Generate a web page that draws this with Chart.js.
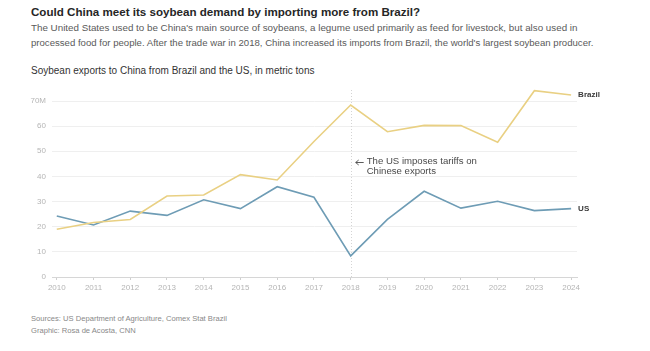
<!DOCTYPE html>
<html>
<head>
<meta charset="utf-8">
<script src="https://cdn.jsdelivr.net/npm/chart.js@4/dist/chart.umd.min.js"></script>
<style>
  html, body { margin: 0; padding: 0; background: #fff; }
  body { width: 650px; height: 351px; position: relative; overflow: hidden; font-family: "Liberation Sans", Arial, sans-serif; }
  .txt { position: absolute; left: 31px; white-space: nowrap; }
  #title { top: 5px; font-size: 11.6px; font-weight: bold; color: #262626; }
  #sub1 { top: 22px; font-size: 9.8px; color: #5a5a5a; }
  #sub2 { top: 37px; font-size: 9.6px; color: #5a5a5a; }
  #label { top: 65px; font-size: 10px; color: #333; }
  #src { top: 314px; font-size: 7.6px; color: #888; }
  #credit { top: 326px; font-size: 7.6px; color: #888; }
  #wrap { position: absolute; left: 0; top: 0; width: 650px; height: 351px; }
</style>
</head>
<body>
<div class="txt" id="title">Could China meet its soybean demand by importing more from Brazil?</div>
<div class="txt" id="sub1">The United States used to be China's main source of soybeans, a legume used primarily as feed for livestock, but also used in</div>
<div class="txt" id="sub2">processed food for people. After the trade war in 2018, China increased its imports from Brazil, the world's largest soybean producer.</div>
<div class="txt" id="label">Soybean exports to China from Brazil and the US, in metric tons</div>
<div class="txt" id="src">Sources: US Department of Agriculture, Comex Stat Brazil</div>
<div class="txt" id="credit">Graphic: Rosa de Acosta, CNN</div>
<div id="wrap"><canvas id="chart"></canvas></div>

<script>
// years on the x axis
const years = [2010, 2011, 2012, 2013, 2014, 2015, 2016, 2017, 2018, 2019, 2020, 2021, 2022, 2023, 2024];

// millions of metric tons
const brazil = [19.0, 21.7, 22.9, 32.2, 32.6, 40.7, 38.6, 53.9, 68.4, 57.8, 60.3, 60.2, 53.6, 74.1, 72.4];
const us = [24.3, 20.7, 26.2, 24.5, 30.7, 27.2, 35.9, 31.7, 8.4, 22.9, 34.1, 27.4, 30.1, 26.4, 27.2];

const yTicks = [0, 10, 20, 30, 40, 50, 60, 70];
const tariffYear = 2018;
const noteLines = ['The US imposes tariffs on', 'Chinese exports'];

const brazilColor = '#e9d083';
const usColor = '#6e9cb5';

// dotted marker line for 2018 plus its note, and end labels
const extras = {
    id: 'extras',
    beforeDatasetsDraw(chart) {
        const ctx = chart.ctx;
        const x = chart.scales.x.getPixelForValue(tariffYear);
        ctx.save();
        ctx.strokeStyle = '#d4d4d4';
        ctx.lineWidth = 1;
        ctx.setLineDash([1, 2]);
        ctx.beginPath();
        ctx.moveTo(Math.round(x) + 0.5, chart.chartArea.top - 11);
        ctx.lineTo(Math.round(x) + 0.5, chart.chartArea.bottom);
        ctx.stroke();
        ctx.restore();
    },
    afterDatasetsDraw(chart) {
        const ctx = chart.ctx;
        const xs = chart.scales.x, ys = chart.scales.y;
        const x = xs.getPixelForValue(tariffYear);
        ctx.save();
        ctx.fillStyle = '#4a4a4a';
        ctx.strokeStyle = '#4a4a4a';
        ctx.textBaseline = 'middle';
        const y0 = ys.getPixelForValue(46.1);
        // small left arrow
        const ay = Math.round(y0) + 1.5;
        ctx.lineWidth = 0.9;
        ctx.beginPath();
        ctx.moveTo(x + 5, ay);
        ctx.lineTo(x + 13, ay);
        ctx.moveTo(x + 8, ay - 2.5);
        ctx.lineTo(x + 5, ay);
        ctx.lineTo(x + 8, ay + 2.5);
        ctx.stroke();
        ctx.font = '9.6px "Liberation Sans", Arial, sans-serif';
        ctx.fillText(noteLines[0], x + 16, y0);
        ctx.fillText(noteLines[1], x + 16, y0 + 10);

        ctx.font = 'bold 8px "Liberation Sans", Arial, sans-serif';
        ctx.fillStyle = '#3a3a3a';
        const last = years.length - 1;
        const lx = xs.getPixelForValue(years[last]) + 7;
        ctx.fillText('Brazil', lx, ys.getPixelForValue(brazil[last]));
        ctx.fillText('US', lx, ys.getPixelForValue(us[last]));
        ctx.restore();
    }
};

const ctx = document.getElementById('chart').getContext('2d');
new Chart(ctx, {
    type: 'line',
    data: {
        datasets: [
            {
                label: 'Brazil',
                data: years.map((y, i) => ({ x: y, y: brazil[i] })),
                borderColor: brazilColor,
                borderWidth: 1.6,
                pointRadius: 0,
                tension: 0,
                clip: false
            },
            {
                label: 'US',
                data: years.map((y, i) => ({ x: y, y: us[i] })),
                borderColor: usColor,
                borderWidth: 1.6,
                pointRadius: 0,
                tension: 0,
                clip: false
            }
        ]
    },
    options: {
        responsive: true,
        maintainAspectRatio: false,
        animation: false,
        layout: { padding: { top: 101, right: 73, bottom: 52, left: 0 } },
        plugins: { legend: { display: false }, tooltip: { enabled: false } },
        scales: {
            x: {
                type: 'linear',
                min: 2009.87,
                max: 2024.16,
                afterBuildTicks: s => { s.ticks = years.map(v => ({ value: v })); },
                afterFit: s => { s.height = 22; },
                grid: { display: true, drawOnChartArea: false, drawTicks: true, tickLength: 3, color: '#cfcfcf' },
                border: { display: true, color: '#d6d6d6' },
                ticks: {
                    color: '#b5b5b5',
                    font: { size: 8, family: '"Liberation Sans", Arial, sans-serif' },
                    padding: 3,
                    maxRotation: 0,
                    autoSkip: false,
                    callback: v => String(v)
                }
            },
            y: {
                min: 0,
                max: 70,
                afterBuildTicks: s => { s.ticks = yTicks.map(v => ({ value: v })); },
                afterFit: s => { s.width = 52; },
                grid: { color: '#efefef', drawTicks: false },
                border: { display: false },
                ticks: {
                    color: '#b5b5b5',
                    font: { size: 8, family: '"Liberation Sans", Arial, sans-serif' },
                    padding: 6,
                    callback: v => v === 70 ? '70M' : String(v)
                }
            }
        }
    },
    plugins: [extras]
});
</script>
</body>
</html>
